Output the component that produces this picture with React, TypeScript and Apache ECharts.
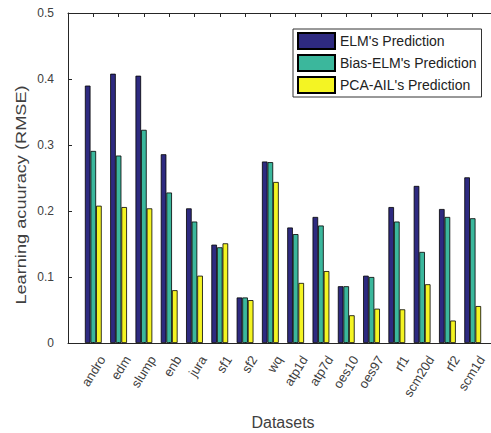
import React, { useEffect, useRef } from "react";
import * as echarts from "echarts";

const categories = ["andro", "edm", "slump", "enb", "jura", "sf1", "sf2", "wq", "atp1d", "atp7d", "oes10", "oes97", "rf1", "scm20d", "rf2", "scm1d"];
const elmPrediction = [0.390, 0.408, 0.405, 0.286, 0.204, 0.149, 0.069, 0.275, 0.175, 0.191, 0.086, 0.102, 0.206, 0.238, 0.203, 0.251];
const biasElmPrediction = [0.291, 0.284, 0.323, 0.228, 0.184, 0.145, 0.069, 0.274, 0.165, 0.178, 0.086, 0.100, 0.184, 0.138, 0.191, 0.189];
const pcaAilPrediction = [0.208, 0.206, 0.204, 0.080, 0.102, 0.151, 0.065, 0.244, 0.091, 0.109, 0.042, 0.052, 0.051, 0.089, 0.034, 0.056];
const seriesNames = ["ELM's Prediction", "Bias-ELM's Prediction", "PCA-AIL's Prediction"];
const seriesColors = ["#2e2a80", "#3bb79c", "#f4f423"];
const yMin = 0;
const yMax = 0.5;
const yStep = 0.1;

const FONT = "'Liberation Sans', Arial, sans-serif";

export default function App() {
  const ref = useRef<HTMLDivElement>(null);
  useEffect(() => {
    if (!ref.current) return;
    const chart = echarts.init(ref.current, undefined, { renderer: "svg" });
    // padded categories so that the axis spans 0..17 like the original
    const axisCats = ["", ...categories, ""];
    const pad = (arr: number[]) => ["-", ...arr, "-"];
    const allData = [elmPrediction, biasElmPrediction, pcaAilPrediction];
    const axisColor = "#262626";
    const textColor = "#404040";

    chart.setOption({
      animation: false,
      backgroundColor: "#ffffff",
      grid: [
        { left: 68, top: 13, right: -7, bottom: 90, containLabel: false, outerBoundsMode: "none" },
        { left: 77, top: 13, right: -16, bottom: 90, containLabel: false, outerBoundsMode: "none" },
      ],
      legend: {
        orient: "vertical",
        left: 293,
        top: 29,
        itemWidth: 37,
        itemHeight: 16,
        itemGap: 4,
        padding: [3, 5, 3, 4],
        borderColor: "#333333",
        borderWidth: 1,
        backgroundColor: "#ffffff",
        icon: "rect",
        textStyle: { fontSize: 14, color: "#222222", fontFamily: FONT },
        data: seriesNames,
      },
      xAxis: [
        {
          type: "category",
          gridIndex: 0,
          data: axisCats,
          boundaryGap: false,
          position: "bottom",
          axisLine: { show: true, lineStyle: { color: axisColor, width: 1 } },
          axisTick: { show: true, inside: true, length: 4, interval: 0, lineStyle: { color: axisColor } },
          axisLabel: { show: false },
          splitLine: { show: false },
          name: "Datasets",
          nameLocation: "middle",
          nameGap: 71,
          nameTextStyle: { fontSize: 16, color: textColor, fontFamily: FONT },
        },
        {
          type: "category",
          gridIndex: 0,
          data: axisCats,
          boundaryGap: false,
          position: "top",
          axisLine: { show: true, lineStyle: { color: axisColor, width: 1 } },
          axisTick: { show: true, inside: true, length: 4, interval: 0, lineStyle: { color: axisColor } },
          axisLabel: { show: false },
          splitLine: { show: false },
        },
        {
          type: "category",
          gridIndex: 1,
          data: axisCats,
          boundaryGap: false,
          position: "bottom",
          axisLine: { show: false },
          axisTick: { show: false },
          axisLabel: {
            show: true,
            interval: 0,
            rotate: 58,
            margin: 14,
            fontSize: 13,
            color: textColor,
            fontFamily: FONT,
          },
          splitLine: { show: false },
        },
      ],
      yAxis: [
        {
          type: "value",
          gridIndex: 0,
          min: yMin,
          max: yMax,
          interval: yStep,
          axisLine: { show: true, lineStyle: { color: axisColor, width: 1 } },
          axisTick: { show: true, inside: true, length: 4, lineStyle: { color: axisColor } },
          axisLabel: { fontSize: 12, color: textColor, margin: 14, fontFamily: FONT },
          splitLine: { show: false },
        },
        {
          type: "value",
          gridIndex: 1,
          min: yMin,
          max: yMax,
          show: false,
        },
      ],
      graphic: [
        {
          type: "text",
          x: 21,
          y: 195,
          rotation: Math.PI / 2,
          scaleX: 1.3,
          style: {
            text: "Learning acuuracy (RMSE)",
            fontSize: 14,
            fontFamily: FONT,
            fill: textColor,
            align: "center",
            verticalAlign: "middle",
          },
        },
      ],
      series: seriesNames.map((name, i) => ({
        name,
        type: "bar",
        xAxisIndex: 0,
        yAxisIndex: 0,
        data: pad(allData[i]),
        barWidth: 5.6,
        barGap: "0%",
        itemStyle: { color: seriesColors[i], borderColor: "#000000", borderWidth: 0.8 },
      })),
    });
    return () => chart.dispose();
  }, []);
  return (
    <div
      ref={ref}
      style={{ position: "absolute", left: 0, top: 0, width: 491, height: 433, background: "#fff" }}
    />
  );
}
